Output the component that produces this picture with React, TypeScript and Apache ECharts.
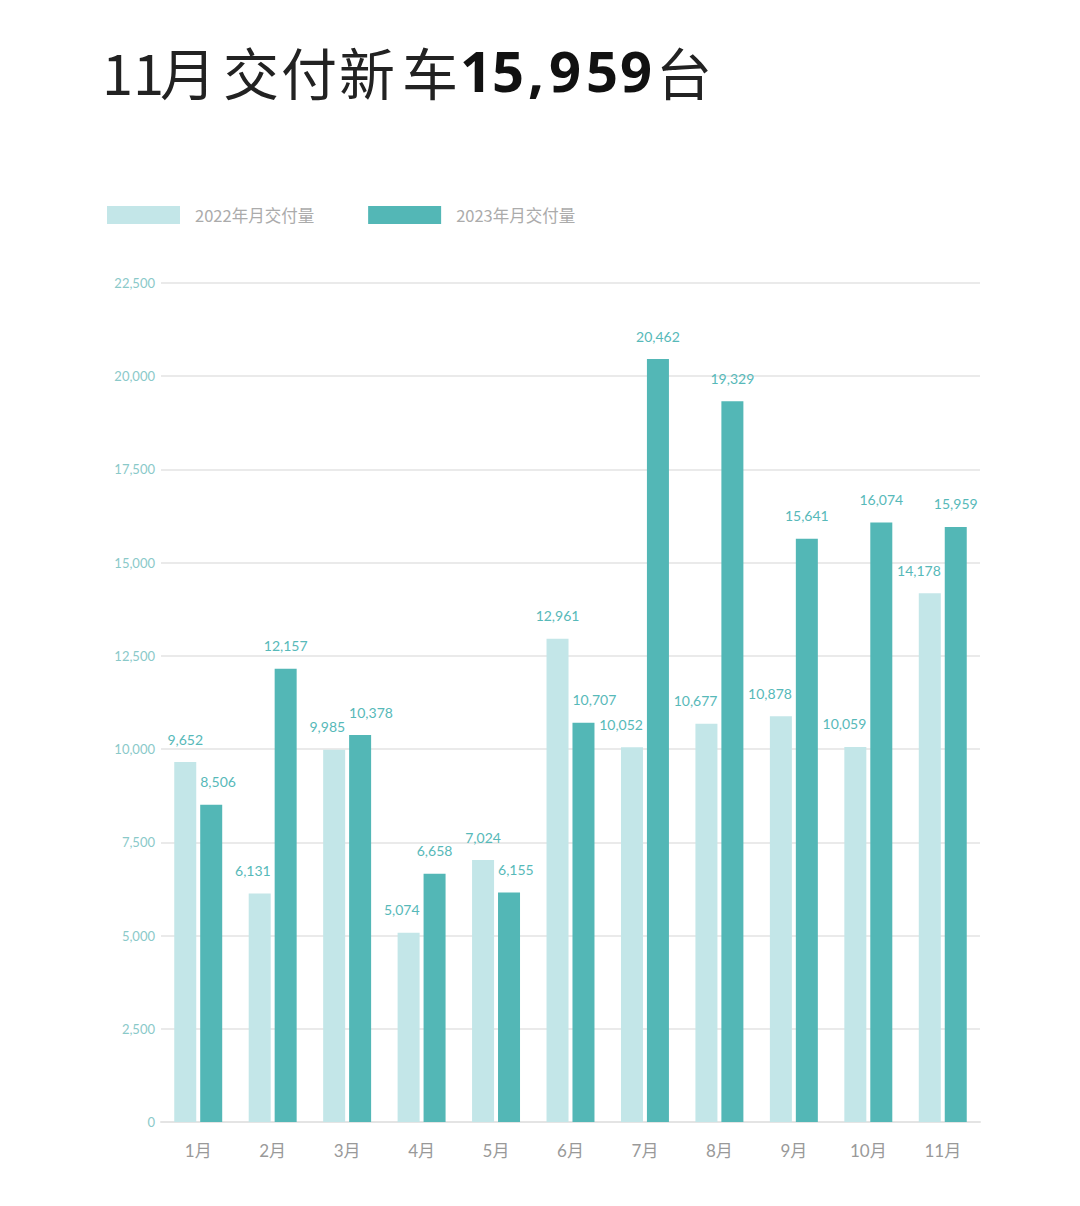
import React, { useEffect, useRef } from "react";
import * as echarts from "echarts";

const months = ["1月", "2月", "3月", "4月", "5月", "6月", "7月", "8月", "9月", "10月", "11月"];
const deliveries2022 = [9652, 6131, 9985, 5074, 7024, 12961, 10052, 10677, 10878, 10059, 14178];
const deliveries2023 = [8506, 12157, 10378, 6658, 6155, 10707, 20462, 19329, 15641, 16074, 15959];
const seriesNames = ["2022年月交付量", "2023年月交付量"];
const yTicks = { min: 0, max: 22500, interval: 2500 };
const titleRegular = ["11", "月", "交", "付", "新", "车"];
const titleNumber = ["1", "5", ",", "9", "5", "9"];
const titleUnit = "台";

const LIGHT = "#c3e6e8";
const DARK = "#53b7b6";
const LABEL = "#57b9b9";
const FONT = "Lato, 'Noto Sans CJK SC', sans-serif";
const HALF_BAR = 11;

export default function App() {
  const ref = useRef<HTMLDivElement>(null);
  useEffect(() => {
    document.body.style.margin = "0";
    const chart = echarts.init(ref.current!, null, { renderer: "svg" });
    const fmt = (v: number) => v.toLocaleString("en-US");

    // title glyph centres (layout only)
    const regularX = [133, 188, 251, 309, 367, 430];
    const numberX = [476, 508, 536, 565, 602, 636];
    const unitX = 684;
    const titleY = 70;
    const titleGraphics: any[] = [];
    titleRegular.forEach((ch, i) =>
      titleGraphics.push({
        type: "text",
        x: regularX[i],
        y: titleY,
        style: {
          text: ch,
          font: "400 56px 'Noto Sans CJK SC'",
          fill: "#222",
          textAlign: "center",
          textVerticalAlign: "middle",
        },
      })
    );
    titleNumber.forEach((ch, i) =>
      titleGraphics.push({
        type: "text",
        x: numberX[i],
        y: titleY,
        style: {
          text: ch,
          font: "700 56px 'Noto Sans', 'Noto Sans CJK SC'",
          fill: "#111",
          textAlign: "center",
          textVerticalAlign: "middle",
        },
      })
    );
    titleGraphics.push({
      type: "text",
      x: unitX,
      y: titleY,
      style: {
        text: titleUnit,
        font: "400 56px 'Noto Sans CJK SC'",
        fill: "#222",
        textAlign: "center",
        textVerticalAlign: "middle",
      },
    });

    const labelBase = { show: true, position: "top", distance: 16, color: LABEL, fontSize: 14, formatter: (p: any) => fmt(p.value) };

    const data2022 = deliveries2022.map((v, i) =>
      deliveries2023[i] > v
        ? { value: v, label: { align: "right", offset: [HALF_BAR, 0] } }
        : { value: v }
    );
    const data2023 = deliveries2023.map((v, i) =>
      deliveries2022[i] > v - 1000
        ? { value: v, label: { align: "left", offset: [-HALF_BAR, 0] } }
        : { value: v }
    );

    chart.setOption({
      animation: false,
      backgroundColor: "#ffffff",
      textStyle: { fontFamily: FONT },
      graphic: titleGraphics,
      legend: {
        left: 107,
        top: 206,
        padding: 0,
        itemWidth: 73,
        itemHeight: 18,
        itemGap: 54,
        icon: "rect",
        textStyle: { color: "#ababab", fontSize: 16.5, padding: [0, 0, 0, 10], fontFamily: "'Noto Sans CJK SC'" },
        data: seriesNames,
      },
      grid: { left: 161, right: 100, top: 283, bottom: 84 },
      xAxis: {
        type: "category",
        data: months,
        axisLine: { show: true, lineStyle: { color: "#e4e4e4", width: 2 } },
        axisTick: { show: false },
        axisLabel: { color: "#999999", fontSize: 17, margin: 20, fontFamily: FONT },
      },
      yAxis: {
        type: "value",
        min: yTicks.min,
        max: yTicks.max,
        interval: yTicks.interval,
        axisLine: { show: false },
        axisTick: { show: false },
        axisLabel: { color: "#8ac9c9", fontSize: 13, margin: 6, formatter: (v: number) => fmt(v) },
        splitLine: { lineStyle: { color: "#e3e3e3", width: 1.5 } },
      },
      series: [
        {
          name: seriesNames[0],
          type: "bar",
          data: data2022,
          barWidth: 22,
          barGap: "18%",
          itemStyle: { color: LIGHT },
          label: labelBase,
        },
        {
          name: seriesNames[1],
          type: "bar",
          data: data2023,
          barWidth: 22,
          itemStyle: { color: DARK },
          label: labelBase,
        },
      ],
    });
    return () => chart.dispose();
  }, []);
  return <div ref={ref} style={{ width: 1080, height: 1206 }} />;
}
